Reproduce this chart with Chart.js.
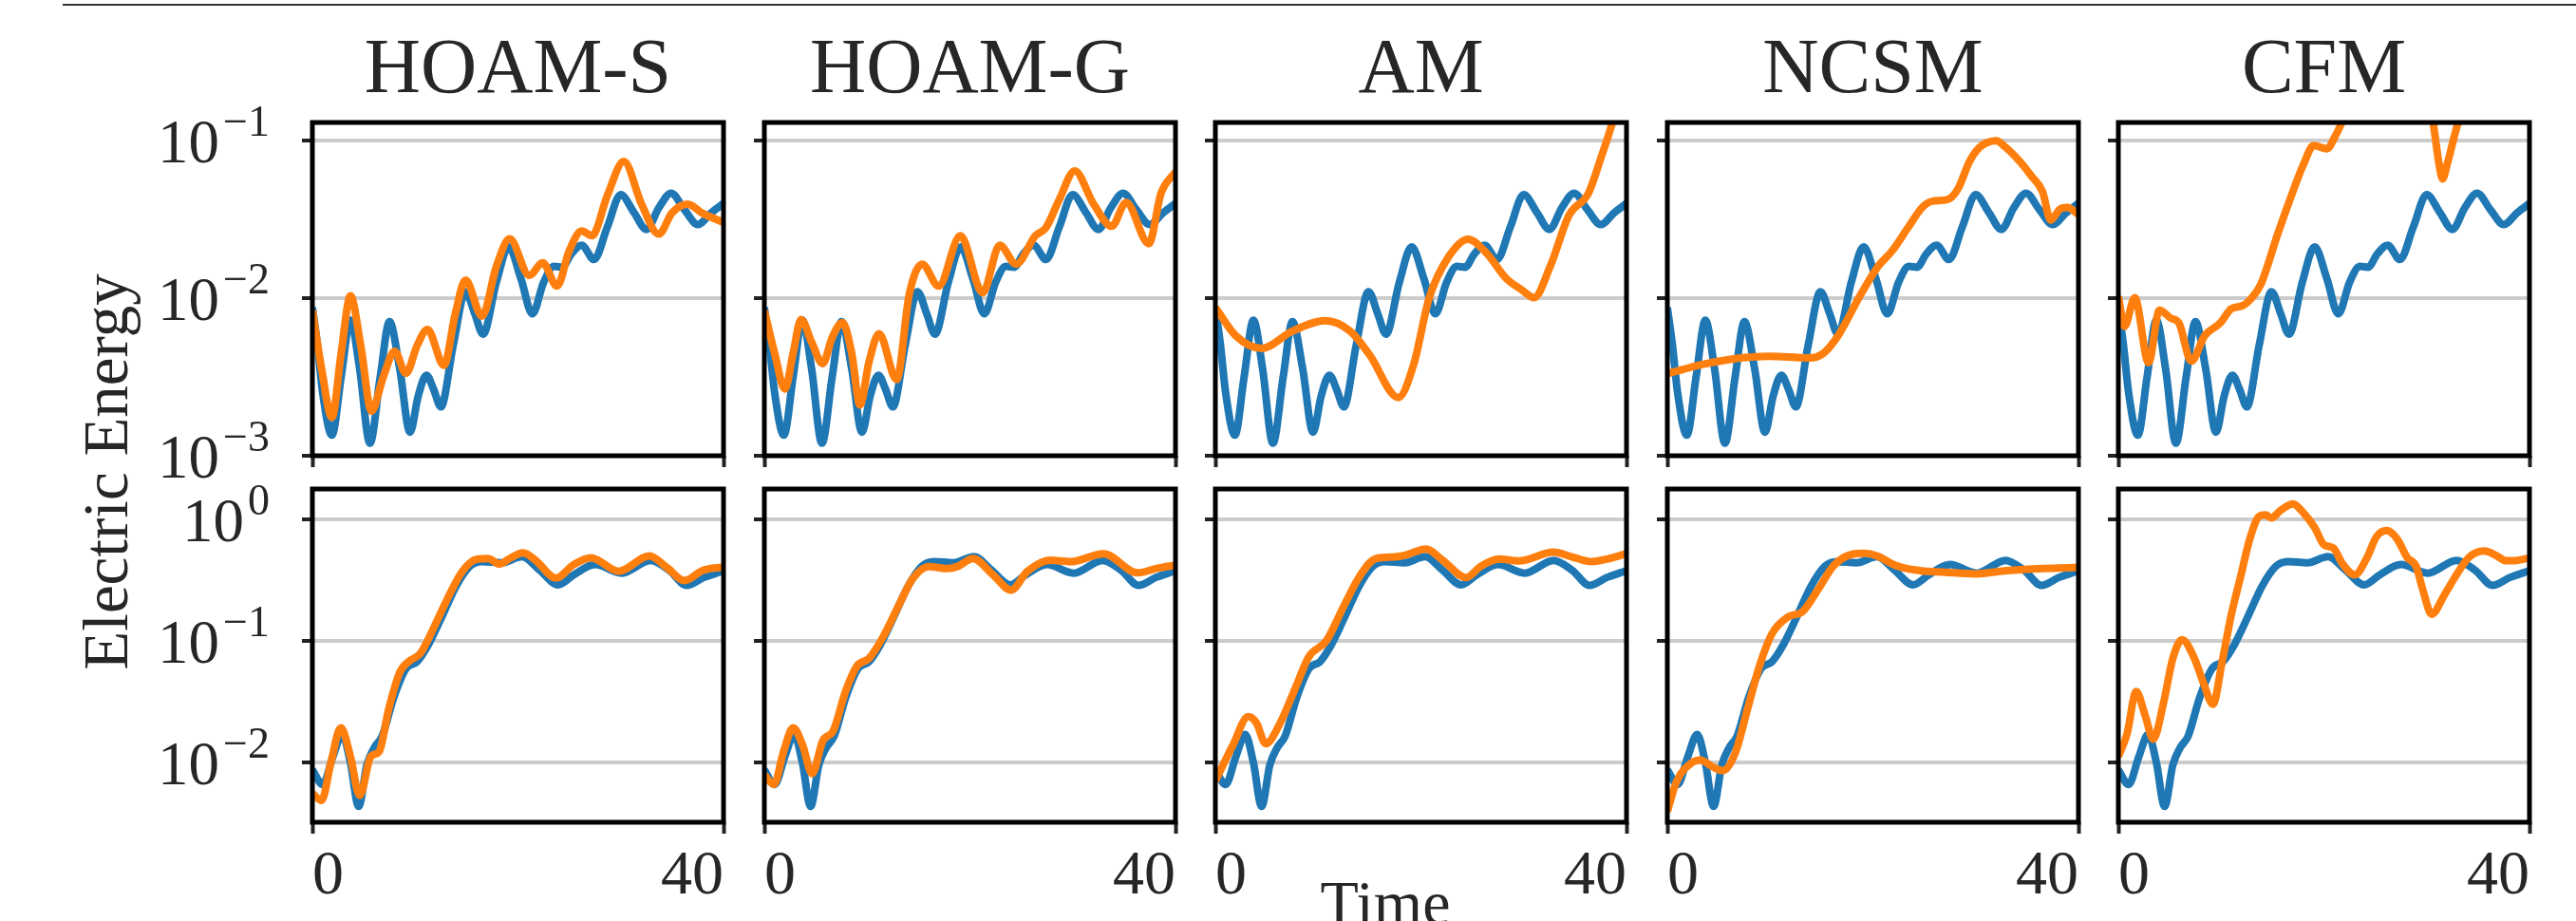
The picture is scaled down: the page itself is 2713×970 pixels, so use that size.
<!DOCTYPE html>
<html><head><meta charset="utf-8">
<script src="https://cdn.jsdelivr.net/npm/chart.js@4.4.0/dist/chart.umd.min.js"></script>
<style>
html,body{margin:0;padding:0;background:#fff;}
body{width:2713px;height:970px;overflow:hidden;position:relative;font-family:"Liberation Serif","DejaVu Serif",serif;color:#262626;}
canvas{position:absolute;}
.title{position:absolute;width:433px;text-align:center;font-size:82px;line-height:82px;white-space:nowrap;top:29px;}
#ylab{position:absolute;left:-189px;top:464px;width:600px;height:66px;line-height:66px;font-size:67px;text-align:center;transform:rotate(-90deg);transform-origin:50% 50%;white-space:nowrap;}
#xlab{position:absolute;left:1309px;top:918px;width:300px;height:66px;line-height:66px;font-size:66px;text-align:center;white-space:nowrap;}
#topline{position:absolute;left:66px;top:4px;width:2647px;height:2px;background:#333;}
</style></head>
<body>
<div id="topline"></div>
<div id="ylab">Electric Energy</div>
<div id="xlab">Time</div>
<script>
// ---------- data ----------
const methods = ['HOAM-S', 'HOAM-G', 'AM', 'NCSM', 'CFM'];
const xTickValues = [0, 40];
const yTicksTop = [1e-3, 1e-2, 1e-1];
const yTicksBottom = [1e-2, 1e-1, 1];
const yRangeTop = [1e-3, 0.1296];
const yRangeBottom = [0.00324, 1.761];

// reference (blue) – top row
const tBlueTop = [0,0.5,1.0,1.9,2.8,3.7,4.6,5.6,6.6,7.5,8.5,9.5,10.3,11.1,11.8,12.5,13.7,14.9,15.8,16.6,17.9,19.1,20.3,21.4,22.5,23.5,24.3,25.2,26.2,27.4,28.7,30.0,31.3,32.5,33.7,34.9,36.2,37.5,38.8,40];
const blueTop = [8.71e-3,5.01e-3,2.51e-3,1.35e-3,3.16e-3,7.24e-3,3.55e-3,1.20e-3,3.16e-3,7.08e-3,3.55e-3,1.41e-3,2.40e-3,3.24e-3,2.63e-3,2.04e-3,5.01e-3,1.096e-2,7.94e-3,5.89e-3,1.259e-2,2.11e-2,1.318e-2,7.94e-3,1.259e-2,1.585e-2,1.567e-2,1.905e-2,2.16e-2,1.754e-2,2.82e-2,4.52e-2,3.47e-2,2.72e-2,3.72e-2,4.62e-2,3.63e-2,2.92e-2,3.47e-2,3.98e-2];

// reference (blue) – bottom row
const tBlueBottom = [0,1.0,2.0,2.9,3.7,4.5,5.3,6.0,6.8,7.9,9.1,10.2,11.3,12.5,14.0,15.3,16.5,18.4,20.4,22.1,23.9,25.5,27.5,30.1,32.9,34.7,36.4,38.1,40];
const blueBottom = [8.71e-3,6.61e-3,1.122e-2,1.70e-2,1.0e-2,4.37e-3,9.55e-3,1.318e-2,1.66e-2,3.39e-2,5.89e-2,6.76e-2,9.33e-2,0.151,0.282,0.407,0.447,0.437,0.490,0.380,0.288,0.351,0.422,0.359,0.457,0.380,0.285,0.331,0.376];

// methods (orange) – top row
const tHoamSTop = [0,0.9,1.9,2.8,3.7,4.7,5.75,6.9,8.0,9.1,10.2,11.2,12.8,13.9,14.9,16.5,17.9,19.2,21.1,22.4,23.8,25.0,26.2,27.2,28.7,30.3,32.0,33.7,35.0,36.5,38.0,40];
const hoamSTop = [8.32e-3,3.55e-3,1.75e-3,4.47e-3,1.033e-2,5.01e-3,1.92e-3,3.16e-3,4.60e-3,3.33e-3,5.01e-3,6.31e-3,3.74e-3,7.94e-3,1.30e-2,7.66e-3,1.585e-2,2.37e-2,1.39e-2,1.67e-2,1.19e-2,2.0e-2,2.66e-2,2.48e-2,4.47e-2,7.35e-2,3.98e-2,2.54e-2,3.47e-2,3.94e-2,3.43e-2,3.02e-2];

const tHoamGTop = [0,1.0,2.0,2.8,3.57,4.6,5.67,6.6,7.6,8.5,9.3,10.2,11.16,12.87,14.1,15.35,16.96,19.07,21.24,22.9,24.5,26.36,27.4,28.7,30.2,32.0,33.8,35.2,37.4,38.6,40];
const hoamGTop = [8.32e-3,4.47e-3,2.65e-3,4.47e-3,7.31e-3,5.25e-3,3.83e-3,5.62e-3,6.98e-3,4.47e-3,2.10e-3,3.98e-3,5.94e-3,3.04e-3,1.057e-2,1.64e-2,1.19e-2,2.48e-2,1.08e-2,2.16e-2,1.64e-2,2.48e-2,2.79e-2,4.22e-2,6.40e-2,3.98e-2,2.85e-2,4.03e-2,2.21e-2,4.62e-2,6.31e-2];

const tAmTop = [0,2,4.5,7.5,10.7,13.1,15.0,17.8,19.3,20.8,22.7,24.6,26.4,28.3,29.8,31.0,32.6,34.4,36.3,37.5,38.6,40];
const amTop = [8.71e-3,5.75e-3,4.79e-3,6.17e-3,7.19e-3,6.18e-3,4.37e-3,2.34e-3,3.80e-3,1.0e-2,1.83e-2,2.36e-2,1.92e-2,1.33e-2,1.127e-2,1.005e-2,1.60e-2,3.34e-2,4.62e-2,7.69e-2,0.1276,0.282];

const tNcsmTop = [0,3.5,7.1,9.9,13.8,15.2,16.6,18.8,20.5,21.9,23.4,24.8,25.8,27.3,28.3,29.4,30.4,32.0,32.9,34.3,35.4,36.5,37.3,38.2,38.9,40];
const ncsmTop = [3.31e-3,3.80e-3,4.17e-3,4.27e-3,4.17e-3,4.47e-3,5.75e-3,1.047e-2,1.585e-2,2.0e-2,2.78e-2,3.75e-2,4.11e-2,4.22e-2,4.95e-2,7.33e-2,9.04e-2,9.91e-2,9.04e-2,7.33e-2,5.96e-2,4.73e-2,3.12e-2,3.66e-2,3.75e-2,3.39e-2];

const tCfmTop = [0,0.6,1.6,2.94,4.0,5.1,5.9,7.1,8.4,9.9,11.0,12.1,13.0,13.9,15.5,16.7,18.0,19.0,20.3,21.1,21.7,23.5,26,28.5,30.0,30.6,31.2,31.55,32.0,33.1,35,38,40];
const cfmTop = [1.023e-2,6.61e-3,1.005e-2,3.89e-3,8.36e-3,7.45e-3,6.93e-3,3.98e-3,5.77e-3,6.93e-3,8.55e-3,8.95e-3,1.005e-2,1.236e-2,2.54e-2,4.21e-2,7.00e-2,9.25e-2,8.83e-2,0.106,0.128,0.251,0.355,0.282,0.178,0.132,7.08e-2,5.69e-2,7.08e-2,0.132,0.251,0.316,0.355];

// methods (orange) – bottom row
const tHoamSBottom = [0,0.9,1.8,2.77,3.7,4.6,5.7,6.5,7.4,8.5,9.4,10.5,11.5,13.1,14.6,16.0,17.1,18.2,19.2,20.5,21.7,23.7,25.4,27.1,29.8,32.8,34.5,36.2,38.0,40];
const hoamSBottom = [5.62e-3,4.90e-3,1.0e-2,1.93e-2,1.122e-2,5.37e-3,1.127e-2,1.233e-2,2.69e-2,5.50e-2,6.78e-2,7.87e-2,0.1127,0.218,0.372,0.468,0.473,0.426,0.473,0.527,0.459,0.327,0.420,0.479,0.372,0.497,0.398,0.312,0.378,0.403];

const tHoamGBottom = [0,0.93,1.9,2.8,3.7,4.65,5.7,6.7,7.9,9.0,10.2,11.6,13.2,14.4,16.0,17.8,18.8,20.3,22.2,24.0,25.6,27.8,29.8,33.0,36.3,38.3,40];
const hoamGBottom = [7.94e-3,6.61e-3,1.259e-2,1.93e-2,1.41e-2,8.13e-3,1.52e-2,1.82e-2,3.84e-2,6.19e-2,7.19e-2,0.1094,0.205,0.321,0.407,0.391,0.407,0.473,0.351,0.261,0.372,0.459,0.446,0.518,0.361,0.395,0.417];

const tAmBottom = [0,1.7,3.2,4.0,4.9,6.3,7.9,9.1,10.8,12.5,14.05,15.6,17.5,18.4,20.5,22.1,24.4,25.8,27.6,29.5,32.9,34.7,36.6,38.1,40];
const amBottom = [7.08e-3,1.39e-2,2.38e-2,2.11e-2,1.43e-2,2.11e-2,4.33e-2,7.41e-2,0.1,0.193,0.340,0.473,0.488,0.502,0.566,0.459,0.330,0.407,0.468,0.452,0.533,0.488,0.446,0.468,0.518];

const tNcsmBottom = [0,0.9,2.4,3.2,4.5,5.4,6.6,7.8,9.0,10.2,11.7,13.2,14.7,16.2,18.0,19.2,20.4,22.2,24.6,27.0,30.0,33.0,36.6,40];
const ncsmBottom = [3.98e-3,7.00e-3,1.0e-2,1.05e-2,9.14e-3,8.61e-3,1.197e-2,2.75e-2,6.35e-2,0.115,0.156,0.175,0.266,0.416,0.513,0.522,0.498,0.416,0.376,0.365,0.354,0.376,0.392,0.400];

const tCfmBottom = [0,0.84,1.74,2.6,3.4,4.4,5.3,6.2,7.4,8.3,9.2,10.1,11.0,11.9,12.8,13.7,14.3,14.9,15.8,17.0,17.9,19.1,20.0,20.9,21.8,23.0,24.2,25.1,26.1,27.1,28.1,29.0,29.6,30.5,31.7,32.9,34.1,35.6,36.8,37.7,38.6,40];
const cfmBottom = [1.122e-2,1.71e-2,3.83e-2,2.45e-2,1.56e-2,3.10e-2,7.16e-2,0.102,7.16e-2,4.45e-2,3.01e-2,6.75e-2,0.165,0.337,0.690,1.05,1.08,1.02,1.18,1.33,1.15,0.851,0.614,0.578,0.429,0.348,0.483,0.711,0.802,0.690,0.483,0.404,0.266,0.165,0.236,0.348,0.483,0.545,0.498,0.455,0.455,0.479];

// ---------- layout ----------
const COL_LEFT = [329, 805, 1280, 1756, 2231];
const ROW_TOP = [129, 515];
const PW = 433, PH = 351;
const ML = 200, MT = 40, MR = 40, MB = 110;
const BLUE = '#1f77b4', ORANGE = '#ff7f0e';
const TXT = '#262626';
const FONT = '"Liberation Serif", "DejaVu Serif", serif';

const panels = [
  [tHoamSTop, hoamSTop, tHoamGTop, hoamGTop, tAmTop, amTop, tNcsmTop, ncsmTop, tCfmTop, cfmTop],
  [tHoamSBottom, hoamSBottom, tHoamGBottom, hoamGBottom, tAmBottom, amBottom, tNcsmBottom, ncsmBottom, tCfmBottom, cfmBottom]
];

methods.forEach((m, c) => {
  const d = document.createElement('div');
  d.className = 'title';
  d.style.left = COL_LEFT[c] + 'px';
  d.textContent = m;
  document.body.appendChild(d);
});

const framePlugin = {
  id: 'frame',
  afterDatasetsDraw(chart) {
    const {ctx, chartArea: a} = chart;
    ctx.save();
    ctx.strokeStyle = '#000';
    ctx.lineWidth = 5;
    ctx.strokeRect(a.left, a.top, a.right - a.left, a.bottom - a.top);
    ctx.restore();
  }
};

// y tick labels as 10 with a raised exponent
const yLabelPlugin = {
  id: 'ylabels',
  afterDraw(chart, args, opts) {
    if (!opts || !opts.show) return;
    const {ctx, chartArea: a, scales: {y}} = chart;
    ctx.save();
    ctx.fillStyle = TXT;
    ctx.textBaseline = 'alphabetic';
    ctx.textAlign = 'right';
    y.ticks.forEach(tk => {
      const py = y.getPixelForValue(tk.value);
      const e = Math.round(Math.log10(tk.value));
      const expStr = e < 0 ? '\u2212' + (-e) : String(e);
      const right = a.left - 45;
      ctx.font = '46px ' + FONT;
      const ew = ctx.measureText(expStr).width;
      ctx.fillText(expStr, right, py - 5);
      ctx.font = '65px ' + FONT;
      ctx.fillText('10', right - ew - 4, py + 23);
    });
    ctx.restore();
  }
};

function pts(t, v) { return t.map((x, i) => ({x: x, y: v[i]})); }

for (let r = 0; r < 2; r++) {
  for (let c = 0; c < 5; c++) {
    const cv = document.createElement('canvas');
    cv.width = ML + PW + MR; cv.height = MT + PH + MB;
    cv.style.left = (COL_LEFT[c] - ML) + 'px';
    cv.style.top = (ROW_TOP[r] - MT) + 'px';
    cv.style.width = cv.width + 'px'; cv.style.height = cv.height + 'px';
    document.body.appendChild(cv);
    const tB = r === 0 ? tBlueTop : tBlueBottom;
    const vB = r === 0 ? blueTop : blueBottom;
    const tO = panels[r][2 * c], vO = panels[r][2 * c + 1];
    const yt = r === 0 ? yTicksTop : yTicksBottom;
    const yr = r === 0 ? yRangeTop : yRangeBottom;
    new Chart(cv, {
      type: 'line',
      data: { datasets: [
        { label: 'reference', data: pts(tB, vB), borderColor: BLUE, borderWidth: 8, pointRadius: 0,
          cubicInterpolationMode: 'monotone', clip: 0, order: 1, borderJoinStyle: 'round' },
        { label: methods[c], data: pts(tO, vO), borderColor: ORANGE, borderWidth: 8, pointRadius: 0,
          cubicInterpolationMode: 'monotone', clip: 0, order: 0, borderJoinStyle: 'round' }
      ]},
      options: {
        responsive: false, animation: false, events: [],
        layout: { padding: { top: MT, right: MR, left: 0, bottom: 0 } },
        plugins: { legend: { display: false }, tooltip: { enabled: false }, ylabels: { show: c === 0 } },
        scales: {
          x: {
            type: 'linear', min: 0, max: 40,
            afterBuildTicks: s => { s.ticks = xTickValues.map(v => ({value: v})); },
            afterFit: s => { s.height = MB; s.paddingLeft = 0; s.paddingRight = 0; },
            border: { display: false },
            grid: { drawOnChartArea: false, drawTicks: true, tickLength: 12, tickWidth: 4, tickColor: '#222' },
            ticks: { display: r === 1, align: 'inner', maxRotation: 0, padding: 6, color: TXT,
                     font: { family: 'Liberation Serif', size: 66 } }
          },
          y: {
            type: 'logarithmic', min: yr[0], max: yr[1],
            afterBuildTicks: s => { s.ticks = yt.map(v => ({value: v})); },
            afterFit: s => { s.width = ML; s.paddingTop = 0; s.paddingBottom = 0; },
            border: { display: false },
            grid: { color: '#cccccc', lineWidth: 4, drawTicks: true, tickLength: 11, tickWidth: 4, tickColor: '#222' },
            ticks: { display: false }
          }
        }
      },
      plugins: [framePlugin, yLabelPlugin]
    });
  }
}
</script>
</body></html>
